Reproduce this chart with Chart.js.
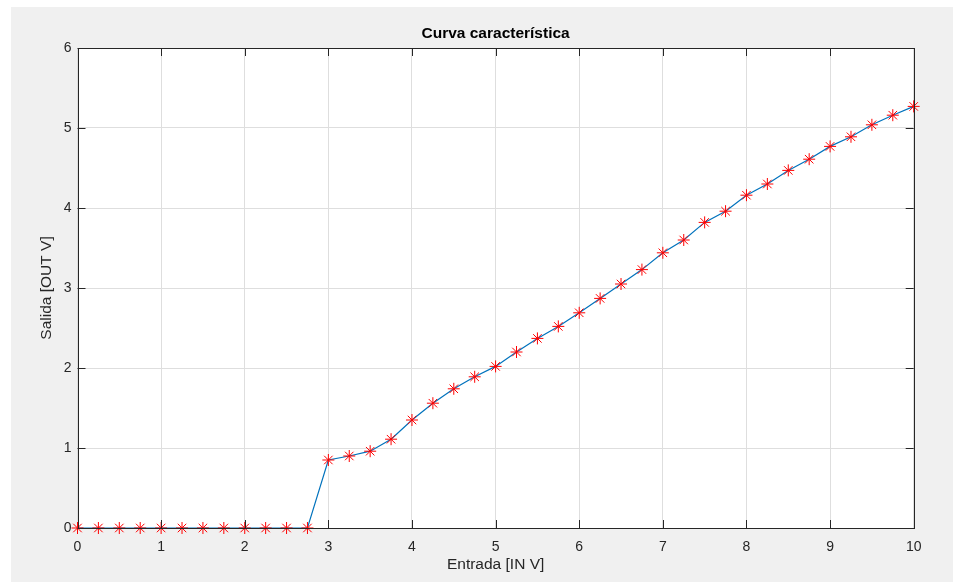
<!DOCTYPE html>
<html>
<head>
<meta charset="utf-8">
<script src="https://cdn.jsdelivr.net/npm/chart.js@4/dist/chart.umd.min.js"></script>
<style>
  html, body { margin: 0; padding: 0; background: #ffffff; }
  #wrap { position: relative; width: 953px; height: 582px; }
</style>
</head>
<body>
<div id="wrap"><canvas id="c" width="953" height="582"></canvas></div>
<script>
// ---- data ----
const entrada = [0, 0.25, 0.5, 0.75, 1, 1.25, 1.5, 1.75, 2, 2.25, 2.5, 2.75,
  3, 3.25, 3.5, 3.75, 4, 4.25, 4.5, 4.75, 5, 5.25, 5.5, 5.75,
  6, 6.25, 6.5, 6.75, 7, 7.25, 7.5, 7.75, 8, 8.25, 8.5, 8.75,
  9, 9.25, 9.5, 9.75, 10];
const salida = [0, 0, 0, 0, 0, 0, 0, 0, 0, 0, 0, 0,
  0.85, 0.90, 0.96, 1.11, 1.35, 1.56, 1.74, 1.89, 2.02, 2.20, 2.37, 2.52,
  2.69, 2.87, 3.05, 3.23, 3.44, 3.60, 3.82, 3.96, 4.16, 4.30, 4.47, 4.61,
  4.77, 4.89, 5.04, 5.16, 5.27];
const xTicks = [0, 1, 2, 3, 4, 5, 6, 7, 8, 9, 10];
const yTicks = [0, 1, 2, 3, 4, 5, 6];
const titleText = 'Curva característica';
const xLabel = 'Entrada [IN V]';
const yLabel = 'Salida [OUT V]';

const points = entrada.map((x, i) => ({ x: x, y: salida[i] }));
const FONT = "'Liberation Sans', Arial, Helvetica, sans-serif";
const AXIS = '#262626';
const GRID = '#dedede';

const bgPlugin = {
  id: 'bg',
  beforeDraw(chart) {
    const ctx = chart.ctx, a = chart.chartArea;
    ctx.save();
    ctx.fillStyle = '#ffffff';
    ctx.fillRect(0, 0, chart.width, chart.height);
    ctx.fillStyle = '#f0f0f0';
    ctx.fillRect(11, 7, chart.width - 11, chart.height - 7);
    ctx.fillStyle = '#ffffff';
    ctx.fillRect(a.left, a.top, a.right - a.left, a.bottom - a.top);
    ctx.restore();
  }
};

const boxPlugin = {
  id: 'box',
  afterDatasetsDraw(chart) {
    const ctx = chart.ctx, a = chart.chartArea;
    const xs = chart.scales.x, ys = chart.scales.y;
    const TL = 8;
    ctx.save();
    ctx.strokeStyle = AXIS;
    ctx.lineWidth = 1;
    ctx.beginPath();
    xs.ticks.forEach(t => {
      const px = Math.round(xs.getPixelForValue(t.value)) + 0.5;
      ctx.moveTo(px, a.bottom); ctx.lineTo(px, a.bottom - TL);
      ctx.moveTo(px, a.top); ctx.lineTo(px, a.top + TL);
    });
    ys.ticks.forEach(t => {
      const py = Math.round(ys.getPixelForValue(t.value)) + 0.5;
      ctx.moveTo(a.left, py); ctx.lineTo(a.left + TL, py);
      ctx.moveTo(a.right, py); ctx.lineTo(a.right - TL, py);
    });
    ctx.stroke();
    ctx.strokeRect(Math.round(a.left) + 0.5, Math.round(a.top) + 0.5,
      Math.round(a.right - a.left), Math.round(a.bottom - a.top));
    ctx.restore();
  }
};

new Chart(document.getElementById('c'), {
  type: 'line',
  data: {
    datasets: [{
      data: points,
      borderColor: '#0072BD',
      borderWidth: 1.2,
      pointStyle: 'star',
      pointRadius: 6,
      pointHoverRadius: 6,
      pointBorderColor: '#ff0000',
      pointBackgroundColor: '#ff0000',
      pointBorderWidth: 1,
      tension: 0,
      fill: false,
      clip: false
    }]
  },
  options: {
    responsive: false,
    animation: false,
    events: [],
    layout: { padding: { left: 0, right: 39.3, top: 0, bottom: 0 } },
    plugins: {
      legend: { display: false },
      tooltip: { enabled: false },
      title: { display: false }
    },
    scales: {
      top: {
        type: 'linear',
        position: 'top',
        min: 0, max: 10,
        afterFit(s) { s.height = 48; },
        grid: { display: false, drawTicks: false },
        border: { display: false },
        ticks: { display: false },
        title: {
          display: true, text: titleText, color: '#000000',
          font: { family: FONT, size: 15.5, weight: 'bold' },
          padding: { top: 24.7, bottom: 0 }
        }
      },
      x: {
        type: 'linear',
        position: 'bottom',
        min: 0, max: 10,
        afterFit(s) { s.height = 54; },
        afterBuildTicks(s) { s.ticks = xTicks.map(v => ({ value: v })); },
        grid: { color: GRID, drawTicks: false, lineWidth: 1 },
        border: { display: false },
        ticks: {
          color: AXIS, padding: 11, maxRotation: 0,
          font: { family: FONT, size: 14 }
        },
        title: {
          display: true, text: xLabel, color: AXIS,
          font: { family: FONT, size: 15.5 },
          padding: { top: 0, bottom: 7.7 }
        }
      },
      y: {
        type: 'linear',
        min: 0, max: 6,
        afterFit(s) { s.width = 77.5; },
        afterBuildTicks(s) { s.ticks = yTicks.map(v => ({ value: v })); },
        grid: { color: GRID, drawTicks: false, lineWidth: 1 },
        border: { display: false },
        ticks: {
          color: AXIS, padding: 6,
          font: { family: FONT, size: 14 }
        },
        title: {
          display: true, text: yLabel, color: AXIS,
          font: { family: FONT, size: 15.5 },
          padding: { top: 37.4, bottom: 0 }
        }
      }
    }
  },
  plugins: [bgPlugin, boxPlugin]
});
</script>
</body>
</html>
